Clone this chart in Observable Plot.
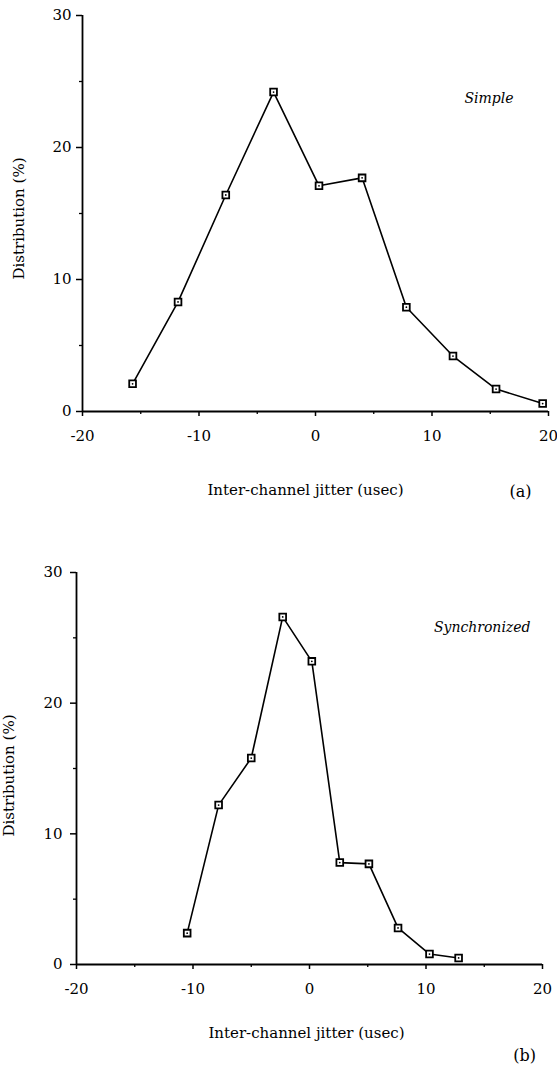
<!DOCTYPE html>
<html><head><meta charset="utf-8">
<script src="https://cdn.jsdelivr.net/npm/d3@7"></script>
<script src="https://cdn.jsdelivr.net/npm/@observablehq/plot@0.6"></script>
<style>
body{margin:0;background:#fff;width:557px;height:1066px;overflow:hidden}
svg{display:block}
</style></head><body><div id="a"></div><div id="b"></div>
<script>
const simpleJitter = [-15.7, -11.8, -7.7, -3.6, 0.3, 4.0, 7.8, 11.8, 15.5, 19.5];
const simpleDist   = [2.1, 8.3, 16.4, 24.2, 17.1, 17.7, 7.9, 4.2, 1.7, 0.6];
const syncJitter   = [-10.5, -7.8, -5.0, -2.3, 0.2, 2.6, 5.1, 7.6, 10.3, 12.8];
const syncDist     = [2.4, 12.2, 15.8, 26.6, 23.2, 7.8, 7.7, 2.8, 0.8, 0.5];
const xTicks = [-20, -10, 0, 10, 20];
const xMinor = [-15, -5, 5, 15];
const yTicks = [0, 10, 20, 30];
const yMinor = [5, 15, 25];
const seriesLabels = ["Simple", "Synchronized"];
const panelLabels = ["(a)", "(b)"];
const xLabel = "Inter-channel jitter (usec)";
const yLabel = "Distribution (%)";

function panel(xs, ys, name, tag, m) {
  const data = xs.map((x, i) => ({x, y: ys[i]}));
  return Plot.plot({
    width: 557, height: m.height,
    marginLeft: m.left, marginRight: m.right, marginTop: m.top, marginBottom: m.bottom,
    x: {domain: [-20, 20]}, y: {domain: [0, 30]},
    style: {fontFamily: "DejaVu Serif", fontSize: "15px", color: "#000", background: "#fff"},
    marks: [
      Plot.axisX({ticks: xTicks, tickSize: 5, tickPadding: 14, tickFormat: d => String(d), label: null, stroke: "#000", strokeWidth: 1.5}),
      Plot.axisX({ticks: xMinor, tickSize: 3, tickFormat: () => "", label: null, stroke: "#000", strokeWidth: 1.3}),
      Plot.axisY({ticks: yTicks, tickSize: 6, tickPadding: m.ypad, tickFormat: d => String(d), label: null, stroke: "#000", strokeWidth: 1.5}),
      Plot.axisY({ticks: yMinor, tickSize: 3, tickFormat: () => "", label: null, stroke: "#000", strokeWidth: 1.3}),
      Plot.ruleX([-20], {stroke: "#000", strokeWidth: 1.8}),
      Plot.ruleY([0], {stroke: "#000", strokeWidth: 1.8}),
      Plot.line(data, {x: "x", y: "y", stroke: "#000", strokeWidth: 1.6}),
      Plot.dot(data, {x: "x", y: "y", symbol: "square", r: 3.8, fill: "#fff", stroke: "#000", strokeWidth: 1.8}),
      Plot.dot(data, {x: "x", y: "y", r: 0.9, fill: "#000"}),
      Plot.text([name], {frameAnchor: "top-right", textAnchor: "end", lineAnchor: "middle", dx: m.nameDx, dy: m.nameDy, fontStyle: "italic", fontSize: 14}),
      Plot.text([xLabel], {frameAnchor: "bottom", textAnchor: "middle", lineAnchor: "middle", dx: m.xlDx, dy: m.xlDy, fontSize: 15}),
      Plot.text([yLabel], {frameAnchor: "left", textAnchor: "middle", lineAnchor: "middle", rotate: -90, dx: m.ylDx, dy: m.ylDy, fontSize: 15}),
      Plot.text([tag], {frameAnchor: "bottom-right", textAnchor: "middle", lineAnchor: "middle", dx: m.tagDx, dy: m.tagDy, fontSize: 16})
    ]
  });
}

document.getElementById("a").append(panel(simpleJitter, simpleDist, seriesLabels[0], panelLabels[0], {
  height: 510, left: 82, right: 9, top: 15, bottom: 99, ypad: 5,
  nameDx: -35, nameDy: 83, xlDx: -10, xlDy: 79, ylDx: -63, ylDy: 5, tagDx: -28, tagDy: 80
}));
document.getElementById("b").append(panel(syncJitter, syncDist, seriesLabels[1], panelLabels[1], {
  height: 556, left: 76, right: 15, top: 62, bottom: 102, ypad: 8,
  nameDx: -12, nameDy: 55, xlDx: -3, xlDy: 69, ylDx: -67, ylDy: 7, tagDx: -18, tagDy: 91
}));
</script></body></html>
